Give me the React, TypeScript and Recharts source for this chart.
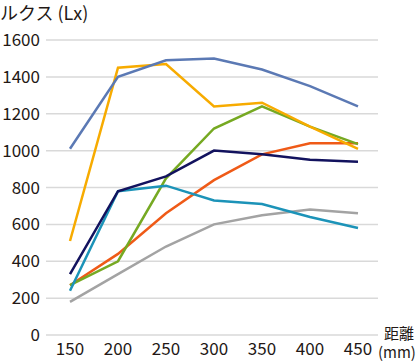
import { CartesianGrid, Line, LineChart, XAxis, YAxis } from "recharts";

const distances = ["150", "200", "250", "300", "350", "400", "450"];
const yTicks = [0, 200, 400, 600, 800, 1000, 1200, 1400, 1600];

const slateBlue = [1010, 1400, 1490, 1500, 1440, 1350, 1240];
const amber = [510, 1450, 1470, 1240, 1260, 1130, 1010];
const green = [270, 400, 850, 1120, 1240, 1130, 1035];
const orange = [270, 440, 660, 840, 980, 1040, 1040];
const navy = [330, 780, 860, 1000, 980, 950, 940];
const teal = [240, 780, 810, 730, 710, 640, 580];
const grey = [180, 330, 480, 600, 650, 680, 660];

const series = [
  { key: "grey", values: grey, color: "#a3a3a3" },
  { key: "orange", values: orange, color: "#ef5a17" },
  { key: "green", values: green, color: "#76a922" },
  { key: "amber", values: amber, color: "#f7ab00" },
  { key: "teal", values: teal, color: "#1c93b8" },
  { key: "navy", values: navy, color: "#12125e" },
  { key: "slateBlue", values: slateBlue, color: "#5b79b4" },
];

const data = distances.map((d, i) => {
  const row: Record<string, string | number> = { distance: d };
  series.forEach((s) => {
    row[s.key] = s.values[i];
  });
  return row;
});

const font = "'Noto Sans CJK JP', 'Noto Sans', sans-serif";
const textColor = "#231815";

export default function App() {
  return (
    <div style={{ position: "absolute", top: 0, left: 0, width: 420, height: 362, fontFamily: font, background: "#fff" }}>
      <div style={{ position: "absolute", left: 0, top: 0, fontSize: 18, lineHeight: "24px", color: textColor }}>
        ルクス (Lx)
      </div>
      <div style={{ position: "absolute", left: 384, top: 324, fontSize: 15, lineHeight: "17px", color: textColor }}>
        距離
      </div>
      <div style={{ position: "absolute", left: 378, top: 343, fontSize: 15, lineHeight: "17px", color: textColor }}>
        (mm)
      </div>
      <LineChart width={420} height={362} data={data} margin={{ top: 40, right: 42, bottom: 0, left: 0 }}>
        <CartesianGrid stroke="#d9d9d9" strokeWidth={1.5} vertical={false} />
        <XAxis
          dataKey="distance"
          axisLine={false}
          tickLine={false}
          height={27}
          padding={{ left: 24, right: 20 }}
          tick={{ fontSize: 17, fill: textColor, fontFamily: font }}
          interval={0}
        />
        <YAxis
          domain={[0, 1600]}
          ticks={yTicks}
          axisLine={false}
          tickLine={false}
          width={46}
          tickMargin={0}
          tick={{ fontSize: 17, fill: textColor, fontFamily: font }}
        />
        {series.map((s) => (
          <Line
            key={s.key}
            dataKey={s.key}
            stroke={s.color}
            strokeWidth={2.5}
            dot={false}
            activeDot={false}
            isAnimationActive={false}
          />
        ))}
      </LineChart>
    </div>
  );
}
